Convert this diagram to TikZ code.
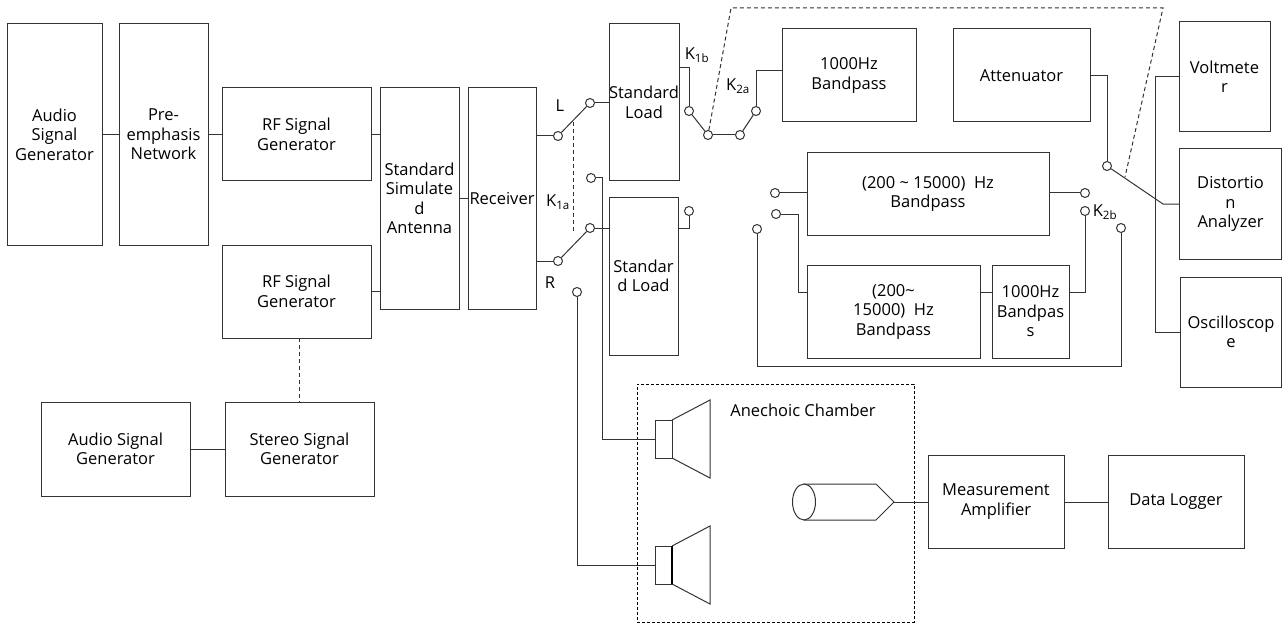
\documentclass[tikz,border=0pt]{standalone}
\usepackage{fontspec}
\setmainfont{Open Sans}
\usetikzlibrary{shapes.geometric}
\tikzset{
    box/.style={draw=black!80, line width=1pt, inner sep=0pt, outer sep=0pt, align=center, font=\fontsize{16.5}{19.5}\selectfont},
    contact/.style={circle, draw=black!80, fill=white, line width=1pt, inner sep=0pt, minimum size=9pt},
    lbl/.style={inner sep=0pt, font=\fontsize{16.5}{19.5}\selectfont},
    wire/.style={black!80, line width=1pt},
    link/.style={black!80, line width=1pt, dashed, dash pattern=on 4pt off 3pt}
}
\begin{document}
\begin{tikzpicture}[x=1pt, y=-1pt]
    \useasboundingbox (0,0) rectangle (1283,623);

    % Source chain
    \node[box, minimum width=95, minimum height=221] (audioa) at (54.5,134.5) {Audio\\Signal\\Generator};
    \node[box, minimum width=89, minimum height=221] (pre) at (163.5,134.5) {Pre-\\emphasis\\Network};
    \node[box, minimum width=149, minimum height=93] (rfa) at (296.5,134.5) {RF Signal\\Generator};
    \node[box, minimum width=149, minimum height=93] (rfb) at (296.5,291.5) {RF Signal\\Generator};
    \node[box, minimum width=79, minimum height=221] (ant) at (419.5,198.5) {Standard\\Simulate\\d\\Antenna};
    \node[box, minimum width=68, minimum height=221] (rec) at (502,198.5) {Receiver};
    \node[box, minimum width=149, minimum height=94] (audiob) at (115.5,449) {Audio Signal\\Generator};
    \node[box, minimum width=149, minimum height=94] (stereo) at (299.5,449) {Stereo Signal\\Generator};

    % Loads
    \node[box, minimum width=70, minimum height=157] (loada) at (644,102.5) {Standard\\Load};
    \node[box, minimum width=69, minimum height=158] (loadb) at (643.5,276) {Standar\\d Load};

    % Filters
    \node[box, minimum width=134, minimum height=93] (passa) at (849,75.5) {1000Hz\\Bandpass};
    \node[box, minimum width=137, minimum height=93] (atten) at (1021.5,75.5) {Attenuator};
    \node[box, minimum width=242, minimum height=82] (wide) at (928,194) {(200 \textasciitilde{} 15000)\ \ Hz\\Bandpass};
    \node[box, minimum width=173, minimum height=93] (wideb) at (893.5,311.5) {(200\textasciitilde{}\\15000)\ \ Hz\\Bandpass};
    \node[box, minimum width=77, minimum height=93] (passb) at (1030.5,311.5) {1000Hz\\Bandpas\\s};

    % Meters
    \node[box, minimum width=91, minimum height=110] (volt) at (1224.5,76.5) {Voltmete\\r};
    \node[box, minimum width=102, minimum height=110] (dist) at (1230.5,204) {Distortio\\n\\Analyzer};
    \node[box, minimum width=101, minimum height=110] (osc) at (1231,332) {Oscilloscop\\e};

    % Measurement
    \node[box, minimum width=136, minimum height=93] (amp) at (996,501.5) {Measurement\\Amplifier};
    \node[box, minimum width=136, minimum height=93] (logger) at (1176,501.5) {Data Logger};

    % Contacts
    \node[contact] (la) at (558,136) {};
    \node[contact] (lb) at (590,103) {};
    \node[contact] (lc) at (591,178) {};
    \node[contact] (ra) at (558,261) {};
    \node[contact] (rb) at (590,228) {};
    \node[contact] (rc) at (577,292) {};
    \node[contact] (ka) at (689,111) {};
    \node[contact] (kb) at (708,135) {};
    \node[contact] (kc) at (740,135) {};
    \node[contact] (kd) at (756,111) {};
    \node[contact] (ke) at (689,211) {};
    \node[contact] (fa) at (775,193) {};
    \node[contact] (fb) at (776,214) {};
    \node[contact] (fc) at (757,229) {};
    \node[contact] (ga) at (1085,193) {};
    \node[contact] (gb) at (1085,211) {};
    \node[contact] (gc) at (1121,228) {};
    \node[contact] (ma) at (1107,166) {};
    \coordinate (mb) at (1163,204);
    \coordinate (mc) at (1125,177);
    \coordinate (bus) at (1155,204);

    % Labels
    \node[lbl] (ltxt) at (560,106) {L};
    \node[lbl] (rtxt) at (550,283) {R};
    \node[lbl] (kaa) at (558,202) {K\textsubscript{1a}};
    \node[lbl] (kab) at (697,55) {K\textsubscript{1b}};
    \node[lbl] (kba) at (738,86) {K\textsubscript{2a}};
    \node[lbl] (kbb) at (1105,212) {K\textsubscript{2b}};

    % Source wires
    \draw[wire] (audioa) -- (pre);
    \draw[wire] (pre) -- (rfa);
    \draw[wire] (rfa) -- (ant.west |- rfa);
    \draw[wire] (rfb) -- (ant.west |- rfb);
    \draw[wire] (ant) -- (rec);
    \draw[wire] (audiob) -- (stereo);
    \draw[link] (rfb.south -| stereo) -- (stereo.north);

    % Switch K1
    \draw[wire] (rec.east |- la) -- (la);
    \draw[wire] (la) -- (lb);
    \draw[wire] (lb) -- (loada.west |- lb);
    \draw[wire] (rec.east |- ra) -- (ra);
    \draw[wire] (ra) -- (rb);
    \draw[wire] (rb) -- (loadb.west |- rb);
    \draw[wire] (loada.east |- 0,68) -| (ka);
    \draw[wire] (ka) -- (kb);
    \draw[wire] (kb) -- (kc);
    \draw[wire] (kc) -- (kd);
    \draw[wire] (kd) |- (passa.west |- 0,71);
    \draw[wire] (ke) |- (loadb.east |- rb);
    \draw[link] (573,122) -- (573,232);

    % Switch K2
    \draw[wire] (fa) -- (wide.west |- fa);
    \draw[wire] (wide.east |- ga) -- (ga);
    \draw[wire] (fb) -| (798,292) -- (wideb.west |- 0,292);
    \draw[wire] (wideb.east |- 0,292) -- (passb.west |- 0,292);
    \draw[wire] (passb.east |- 0,292) -| (gb);
    \draw[wire] (fc) |- (1121,366) -- (gc);

    % Meter wires
    \draw[wire] (atten.east |- 0,76) -| (ma);
    \draw[wire] (ma) -- (mb) -- (dist.west |- mb);
    \draw[wire] (volt.west) -| (bus) |- (osc.west);
    \draw[link] (kb) -- (731,8) -- (1163,8) -- (mc);

    % Anechoic chamber
    \node[lbl] (chamber) at (803,410) {Anechoic Chamber};
    \node[draw=black, line width=1pt, dashed, dash pattern=on 3pt off 2pt, inner sep=0pt, minimum width=277, minimum height=238] (room) at (775.5,503) {};

    % Speakers
    \node[box, minimum width=17, minimum height=38] (spka) at (663.5,439) {};
    \node[box, minimum width=17, minimum height=38] (spkb) at (663.5,565) {};
    \draw[wire] (spka.north east) -- (710,400) -- (710,478) -- (spka.south east);
    \draw[wire] (spkb.north east) -- (710,526) -- (710,604) -- (spkb.south east);
    \draw[black, line width=2pt] (spkb.north east) -- (spkb.south east);
    \draw[wire] (lc) -| (602,439) -- (spka.west);
    \draw[wire] (rc) |- (spkb.west);

    % Microphone
    \node[draw=black!80, line width=1pt, ellipse, inner sep=0pt, outer sep=0pt, minimum width=23, minimum height=36] (mic) at (804,502) {};
    \coordinate (tip) at (894,502);
    \draw[wire] (mic.north) -- (876,484) -- (tip) -- (876,520) -- (mic.south);
    \draw[wire] (tip) -- (amp.west |- tip);
    \draw[wire] (amp.east |- tip) -- (logger.west |- tip);
\end{tikzpicture}
\end{document}
